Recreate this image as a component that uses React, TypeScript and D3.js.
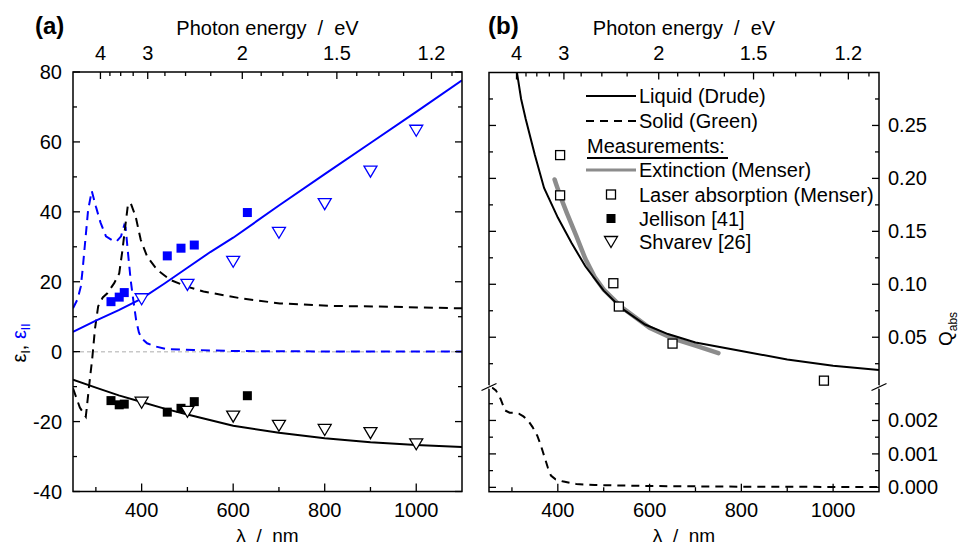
import React from "react";
import * as d3 from "d3";

const HC = 1239.84; // eV * nm

// axis ticks
const lambdaMajor = [400, 600, 800, 1000];
const lambdaMinor = [300, 500, 700, 900];
const energyMajor = [4, 3, 2, 1.5, 1.2];
const energyMinor = [3.75, 3.5, 3.25, 2.75, 2.5, 2.25, 1.875, 1.75, 1.625, 1.425, 1.35, 1.275, 1.15];
const epsMajor = [-40, -20, 0, 20, 40, 60, 80];
const epsMinor = [-30, -10, 10, 30, 50, 70];
const qUpperMajor = [0.05, 0.1, 0.15, 0.2, 0.25];
const qUpperMinor = [0.025, 0.075, 0.125, 0.175, 0.225, 0.275];
const qLowerMajor = [0, 0.001, 0.002];
const qLowerMinor = [0.0005, 0.0015, 0.0025];

// (a) liquid Drude
const drudeLamI = [250, 300, 350, 400, 450, 500, 600, 700, 800, 900, 1000, 1100];
const drudeEpsI = [-8, -10.3, -12.5, -14.4, -16.3, -18, -21.2, -23.2, -24.8, -25.9, -26.7, -27.3];
const drudeLamII = [250, 300, 350, 400, 450, 500, 550, 600, 700, 800, 900, 1000, 1100];
const drudeEpsII = [5.7, 8.9, 11.9, 15.2, 19.5, 24, 28.5, 32.6, 41.8, 50.8, 59.7, 68.6, 77.6];

// (a) solid Green
const greenLamI = [250, 265, 278, 285, 292, 298, 305, 315, 325, 340, 351, 358, 365, 370, 376, 387, 398, 412, 434, 463, 499, 535, 615, 702, 811, 920, 1100];
const greenEpsI = [-10.5, -16, -18.6, -10, -2, 6.5, 13, 15.5, 16.7, 19.6, 22.4, 29, 36.7, 42, 42.5, 38.6, 32, 27.2, 23.4, 20.5, 18.6, 17.2, 15.3, 13.8, 13.1, 12.9, 12.4];
const greenLamII = [250, 260, 267, 271, 277, 283, 291, 300, 310, 322, 338, 345, 355, 362, 365, 370, 376, 382, 388, 394, 400, 412, 430, 456, 514, 593, 700, 900, 1100];
const greenEpsII = [12.4, 15, 18.6, 23.4, 32, 40.5, 46, 41.5, 37, 33, 31.7, 31.5, 33, 36.2, 35.5, 28.5, 20.5, 14.5, 9, 5.5, 3.8, 2.4, 1.5, 0.7, 0.5, 0.2, 0.1, 0.05, 0.03];

// (a) measurements
const jellisonLam = [333, 351, 362, 456, 486, 515, 631];
const jellisonEpsI = [-14.0, -15.2, -15.0, -17.3, -16.2, -14.3, -12.6];
const jellisonEpsII = [14.3, 15.6, 16.9, 27.4, 29.6, 30.5, 39.8];
const shvarevLam = [400, 500, 600, 700, 800, 900, 1000];
const shvarevEpsI = [-14.6, -17.2, -18.6, -21.2, -22.4, -23.3, -26.5];
const shvarevEpsII = [15.0, 19.1, 25.7, 34.0, 42.2, 51.5, 63.2];

// (b) Q_abs
const liquidQLam = [300, 312, 320, 330, 350, 370, 400, 430, 460, 500, 540, 590, 640, 700, 800, 900, 1000, 1100];
const liquidQ = [0.33, 0.297, 0.275, 0.256, 0.222, 0.191, 0.163, 0.139, 0.117, 0.094, 0.077, 0.062, 0.053, 0.045, 0.037, 0.029, 0.023, 0.019];
const solidQLam = [255, 265, 275, 285, 295, 305, 315, 325, 335, 345, 355, 362, 370, 378, 385, 395, 410, 440, 480, 600, 800, 1100];
const solidQ = [0.003, 0.0029, 0.00265, 0.0023, 0.00223, 0.00223, 0.0022, 0.00212, 0.002, 0.0018, 0.00155, 0.0013, 0.00095, 0.0006, 0.00035, 0.00024, 0.00018, 0.0001, 0.00007, 0.00004, 0.00002, 0.00001];
const extinctionLam = [393, 396, 400, 410, 420, 440, 460, 480, 500, 540, 600, 650, 700, 750];
const extinctionQ = [0.199, 0.195, 0.19, 0.178, 0.167, 0.146, 0.124, 0.107, 0.095, 0.078, 0.059, 0.049, 0.042, 0.035];
const laserLam = [405, 405, 521, 533, 650, 980];
const laserQ = [0.222, 0.184, 0.101, 0.079, 0.044, 0.009];

const legendLabels = ["Liquid (Drude)", "Solid (Green)", "Measurements:", "Extinction (Menser)", "Laser absorption (Menser)", "Jellison [41]", "Shvarev [26]"];

const FONT = "'Liberation Sans', Arial, Helvetica, sans-serif";
const BLUE = "#0000ff";
const GREY = "#8c8c8c";

const A = { l: 73, r: 462, t: 72, b: 491.5 };
const B = { l: 489, r: 879, t: 72.5, b: 491.7 };
const breakY = 387;

const xA = d3.scaleLinear().domain([250, 1100]).range([A.l, A.r]);
const yA = d3.scaleLinear().domain([-40, 80]).range([A.b, A.t]);
const xB = d3.scaleLinear().domain([250, 1100]).range([B.l, B.r]);
const yBUp = d3.scaleLinear().domain([0.003, 0.3]).range([breakY, B.t]);
const yBLo = d3.scaleLinear().domain([-0.00013, 0.003]).range([B.b, breakY]);

const zip = (xs: number[], ys: number[]) => xs.map((x, i) => [x, ys[i]] as [number, number]);

const pathOf = (xs: number[], ys: number[], sx: any, sy: any) =>
  d3.line<[number, number]>().x((d) => sx(d[0])).y((d) => sy(d[1]))(zip(xs, ys)) || "";

const tri = (x: number, y: number) => `M${x - 6.5},${y - 5.5}L${x + 6.5},${y - 5.5}L${x},${y + 5.5}Z`;

const vTicks = (x: number, dir: number, ys: number[], len: number, key: string) =>
  ys.map((y, i) => <line key={key + i} x1={x} x2={x + dir * len} y1={y} y2={y} stroke="#000" strokeWidth={1.3} />);
const hTicks = (y: number, dir: number, xs: number[], len: number, key: string) =>
  xs.map((x, i) => <line key={key + i} x1={x} x2={x} y1={y} y2={y + dir * len} stroke="#000" strokeWidth={1.3} />);

function TopBottom({ sx, P, id }: { sx: any; P: any; id: string }) {
  const eMaj = energyMajor.map((e) => sx(HC / e));
  const eMin = energyMinor.map((e) => sx(HC / e));
  return (
    <g>
      {hTicks(P.b, -1, lambdaMajor.map(sx), 8, id + "bM")}
      {hTicks(P.b, -1, lambdaMinor.map(sx), 4.5, id + "bm")}
      {hTicks(P.t, 1, eMaj, 7, id + "tM")}
      {hTicks(P.t, 1, eMin, 4, id + "tm")}
      {lambdaMajor.map((l) => (
        <text key={id + "bl" + l} x={sx(l)} y={517} textAnchor="middle" fontSize={20}>{l}</text>
      ))}
      {energyMajor.map((e) => (
        <text key={id + "tl" + e} x={sx(HC / e)} y={60} textAnchor="middle" fontSize={20}>{String(e)}</text>
      ))}
      <text x={(P.l + P.r) / 2} y={35} textAnchor="middle" fontSize={20} style={{ whiteSpace: "pre" }}>
        {"Photon energy  /  eV"}
      </text>
      <text x={(P.l + P.r) / 2} y={542} textAnchor="middle" fontSize={19} style={{ whiteSpace: "pre" }}>
        {"λ  /  nm"}
      </text>
    </g>
  );
}

export default function App() {
  const legendY = [96, 121, 146, 170, 194.5, 218.5, 242];
  const lx0 = 586;
  const lx1 = 636;
  const lmx = 611;
  const ltx = 639;

  return (
    <svg width={968} height={548} style={{ position: "absolute", left: 0, top: 0, background: "#fff" }} fontFamily={FONT}>
      <defs>
        <clipPath id="clipA"><rect x={A.l} y={A.t} width={A.r - A.l} height={A.b - A.t} /></clipPath>
        <clipPath id="clipBU"><rect x={B.l} y={B.t} width={B.r - B.l} height={breakY - B.t} /></clipPath>
        <clipPath id="clipBL"><rect x={B.l} y={breakY} width={B.r - B.l} height={B.b - breakY} /></clipPath>
      </defs>

      {/* ---------- panel (a) ---------- */}
      <text x={35} y={34} fontSize={24} fontWeight="bold">(a)</text>
      <g clipPath="url(#clipA)">
        <line x1={A.l} x2={A.r} y1={yA(0)} y2={yA(0)} stroke="#c8c8c8" strokeWidth={1.5} strokeDasharray="4,3" />
        <path d={pathOf(greenLamII, greenEpsII, xA, yA)} fill="none" stroke={BLUE} strokeWidth={2} strokeDasharray="9,6" />
        <path d={pathOf(greenLamI, greenEpsI, xA, yA)} fill="none" stroke="#000" strokeWidth={2} strokeDasharray="9,6" />
        <path d={pathOf(drudeLamII, drudeEpsII, xA, yA)} fill="none" stroke={BLUE} strokeWidth={2} />
        <path d={pathOf(drudeLamI, drudeEpsI, xA, yA)} fill="none" stroke="#000" strokeWidth={2} />
        {jellisonLam.map((l, i) => (
          <rect key={"jb" + i} x={xA(l) - 4.5} y={yA(jellisonEpsII[i]) - 4.5} width={9} height={9} fill={BLUE} />
        ))}
        {jellisonLam.map((l, i) => (
          <rect key={"jk" + i} x={xA(l) - 4.5} y={yA(jellisonEpsI[i]) - 4.5} width={9} height={9} fill="#000" />
        ))}
        {shvarevLam.map((l, i) => (
          <path key={"sb" + i} d={tri(xA(l), yA(shvarevEpsII[i]))} fill="#fff" stroke={BLUE} strokeWidth={1.3} />
        ))}
        {shvarevLam.map((l, i) => (
          <path key={"sk" + i} d={tri(xA(l), yA(shvarevEpsI[i]))} fill="#fff" stroke="#000" strokeWidth={1.3} />
        ))}
      </g>
      <rect x={A.l} y={A.t} width={A.r - A.l} height={A.b - A.t} fill="none" stroke="#000" strokeWidth={1.5} />
      {vTicks(A.l, 1, epsMajor.map(yA), 7, "alM")}
      {vTicks(A.l, 1, epsMinor.map(yA), 4, "alm")}
      {vTicks(A.r, -1, epsMajor.map(yA), 7, "arM")}
      {vTicks(A.r, -1, epsMinor.map(yA), 4, "arm")}
      {epsMajor.map((v) => (
        <text key={"al" + v} x={62} y={yA(v) + 7} textAnchor="end" fontSize={20}>{v}</text>
      ))}
      <TopBottom sx={xA} P={A} id="a" />
      <text transform="translate(26,343) rotate(-90)" textAnchor="middle" fontSize={20}>
        <tspan fill="#000">ε</tspan>
        <tspan fill="#000" fontSize={12} dy={4}>I</tspan>
        <tspan fill="#000" dy={-4}>, </tspan>
        <tspan fill={BLUE}>ε</tspan>
        <tspan fill={BLUE} fontSize={12} dy={4}>II</tspan>
      </text>

      {/* ---------- panel (b) ---------- */}
      <text x={488} y={34} fontSize={24} fontWeight="bold">(b)</text>
      <g clipPath="url(#clipBL)">
        <path d={pathOf(solidQLam, solidQ, xB, yBLo)} fill="none" stroke="#000" strokeWidth={2} strokeDasharray="8,6" />
      </g>
      <g clipPath="url(#clipBU)">
        <path d={pathOf(extinctionLam, extinctionQ, xB, yBUp)} fill="none" stroke={GREY} strokeWidth={4.5} strokeLinecap="round" />
        <path d={pathOf(liquidQLam, liquidQ, xB, yBUp)} fill="none" stroke="#000" strokeWidth={2} />
        {laserLam.map((l, i) => (
          <rect key={"la" + i} x={xB(l) - 4.5} y={yBUp(laserQ[i]) - 4.5} width={9} height={9} fill="#fff" stroke="#000" strokeWidth={1.3} />
        ))}
      </g>
      <rect x={B.l} y={B.t} width={B.r - B.l} height={B.b - B.t} fill="none" stroke="#000" strokeWidth={1.5} />
      {[B.l, B.r].map((x, k) => (
        <g key={"brk" + k}>
          {vTicks(x, k === 0 ? 1 : -1, qUpperMajor.map(yBUp), 7, "bu" + k)}
          {vTicks(x, k === 0 ? 1 : -1, qUpperMinor.map(yBUp), 4, "bum" + k)}
          {vTicks(x, k === 0 ? 1 : -1, qLowerMajor.map(yBLo), 7, "bl" + k)}
          {vTicks(x, k === 0 ? 1 : -1, qLowerMinor.map(yBLo), 4, "blm" + k)}
          <line x1={x - 3} x2={x + 3} y1={breakY - 1} y2={breakY + 1} stroke="#fff" strokeWidth={3} />
          <line x1={x - 7.5} x2={x + 7.5} y1={breakY + 3.5} y2={breakY - 3.5} stroke="#000" strokeWidth={1.3} />
        </g>
      ))}
      {qUpperMajor.map((v) => (
        <text key={"qu" + v} x={888} y={yBUp(v) + 7} fontSize={20}>{d3.format(".2f")(v)}</text>
      ))}
      {qLowerMajor.map((v) => (
        <text key={"ql" + v} x={888} y={yBLo(v) + 7} fontSize={20}>{d3.format(".3f")(v)}</text>
      ))}
      <TopBottom sx={xB} P={B} id="b" />
      <text transform="translate(952,329) rotate(-90)" textAnchor="middle" fontSize={19}>
        <tspan>Q</tspan>
        <tspan fontSize={12} dy={5}>abs</tspan>
      </text>

      {/* legend */}
      <line x1={lx0} x2={lx1} y1={legendY[0]} y2={legendY[0]} stroke="#000" strokeWidth={2} />
      <line x1={lx0} x2={lx1} y1={legendY[1]} y2={legendY[1]} stroke="#000" strokeWidth={2} strokeDasharray="8,6" />
      <line x1={lx0} x2={lx1} y1={legendY[3]} y2={legendY[3]} stroke={GREY} strokeWidth={3} />
      <rect x={lmx - 4.5} y={legendY[4] - 4.5} width={9} height={9} fill="#fff" stroke="#000" strokeWidth={1.3} />
      <rect x={lmx - 4.5} y={legendY[5] - 4.5} width={9} height={9} fill="#000" />
      <path d={tri(lmx, legendY[6])} fill="#fff" stroke="#000" strokeWidth={1.3} />
      {legendLabels.map((t, i) => (
        <text key={"lg" + i} x={i === 2 ? 587 : ltx} y={legendY[i] + 7} fontSize={20}>{t}</text>
      ))}
      <line x1={587} x2={728} y1={legendY[2] + 12} y2={legendY[2] + 12} stroke="#000" strokeWidth={2} />
    </svg>
  );
}
